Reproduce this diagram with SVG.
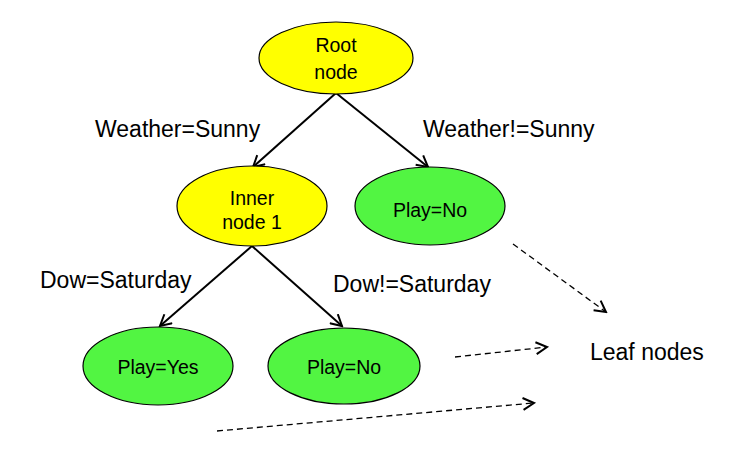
<svg xmlns="http://www.w3.org/2000/svg" width="733" height="451" viewBox="0 0 733 451">
<style>
.node{stroke:#000;stroke-width:1.2}
.yellow{fill:#ffff00}
.green{fill:#52f542}
text{font-family:"Liberation Sans",Arial,sans-serif;fill:#000;text-anchor:middle}
.nt{font-size:19.5px}
.lbl{font-size:23px;text-anchor:start}
.solid{stroke:#000;stroke-width:2;fill:none}
.dash{stroke:#000;stroke-width:1.3;fill:none;stroke-dasharray:6,4}
</style>
<defs>
<marker id="arr" markerUnits="userSpaceOnUse" markerWidth="14" markerHeight="14" refX="12" refY="7" orient="auto" viewBox="0 0 14 14">
<path d="M1,1 L12,7 L1,13" fill="none" stroke="#000" stroke-width="2"/>
</marker>
<marker id="arrd" markerUnits="userSpaceOnUse" markerWidth="14" markerHeight="14" refX="12" refY="7" orient="auto" viewBox="0 0 14 14">
<path d="M1,1 L12,7 L1,13" fill="none" stroke="#000" stroke-width="2"/>
</marker>
</defs>
<rect width="733" height="451" fill="#fff"/>
<g id="connectors">
<line class="solid" x1="336" y1="93" x2="253" y2="167" marker-end="url(#arr)"/>
<line class="solid" x1="336" y1="93" x2="428" y2="167" marker-end="url(#arr)"/>
<line class="solid" x1="252" y1="246" x2="160" y2="326" marker-end="url(#arr)"/>
<line class="solid" x1="252" y1="246" x2="342" y2="326" marker-end="url(#arr)"/>
<line class="dash" x1="513" y1="244" x2="606" y2="312" marker-end="url(#arrd)"/>
<line class="dash" x1="455" y1="357" x2="547" y2="347" marker-end="url(#arrd)"/>
<line class="dash" x1="217" y1="431" x2="534" y2="403" marker-end="url(#arrd)"/>
</g>
<g id="root">
<ellipse class="node yellow" cx="336" cy="58" rx="77" ry="36"/>
<text class="nt" x="336" y="52">Root</text>
<text class="nt" x="336" y="79">node</text>
</g>
<g id="inner1">
<ellipse class="node yellow" cx="252" cy="206" rx="75" ry="40"/>
<text class="nt" x="252" y="205">Inner</text>
<text class="nt" x="252" y="229">node 1</text>
</g>
<g id="playno1">
<ellipse class="node green" cx="430" cy="206" rx="75" ry="39"/>
<text class="nt" x="430" y="217">Play=No</text>
</g>
<g id="playyes">
<ellipse class="node green" cx="158" cy="366" rx="75" ry="39"/>
<text class="nt" x="158" y="374">Play=Yes</text>
</g>
<g id="playno2">
<ellipse class="node green" cx="344" cy="366" rx="76" ry="38"/>
<text class="nt" x="344" y="374">Play=No</text>
</g>
<g id="labels">
<text class="lbl" x="95" y="137">Weather=Sunny</text>
<text class="lbl" x="423" y="137">Weather!=Sunny</text>
<text class="lbl" x="40" y="288">Dow=Saturday</text>
<text class="lbl" x="333" y="292">Dow!=Saturday</text>
<text class="lbl" x="590" y="360">Leaf nodes</text>
</g>
</svg>
